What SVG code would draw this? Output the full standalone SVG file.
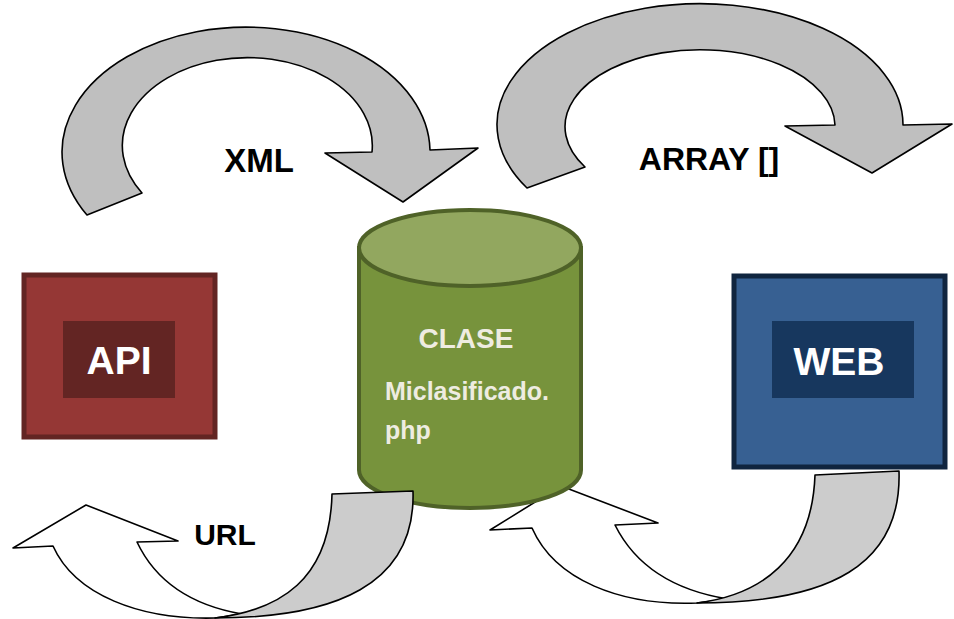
<svg xmlns="http://www.w3.org/2000/svg" width="954" height="619" viewBox="0 0 954 619">
<style>
.arr{stroke:#000;stroke-width:1.6;stroke-linejoin:round}
.g1{fill:#bfbfbf}
.g2{fill:#cccccc}
.w{fill:#fff}
.lbl{font-family:"Liberation Sans",Arial,sans-serif;font-weight:bold;fill:#000}
.nt{font-family:"Liberation Sans",Arial,sans-serif;font-weight:bold;fill:#fff}
.ct{font-family:"Liberation Sans",Arial,sans-serif;font-weight:bold;fill:#eeece1}
</style>
<rect width="954" height="619" fill="#fff"/>
<g id="connectors">
  <path class="arr g1" d="M87,215 A184,125 0 1 1 430,150 L478,148 L403,202 L325,153 L372,152 A125,88 0 1 0 142,193 Z"/>
  <path class="arr g1" d="M527,188 A203,121 0 1 1 903,125 L952,124 L872,173 L785,126 L835,125 A135,77 0 1 0 585,167 Z"/>
  <path class="arr w" d="M532,528 L490,530 L561,486 L658,523 L615,525 C635,565 672,590 728,599 L697,603 C620,606 555,580 532,528 Z"/>
  <path class="arr g2" d="M815,475 L899,471 C902,565 830,603 697,603 C760,595 812,560 815,475 Z"/>
  <text class="lbl" x="259" y="172" font-size="33" text-anchor="middle">XML</text>
  <text class="lbl" x="709" y="170" font-size="32" text-anchor="middle">ARRAY []</text>
  <text class="lbl" x="225" y="545" font-size="30" text-anchor="middle">URL</text>
</g>
<g id="api">
  <rect x="24" y="275" width="191" height="162" fill="#953735" stroke="#632523" stroke-width="5"/>
  <rect x="63" y="321" width="112" height="77" fill="#632523"/>
  <text class="nt" x="119" y="374" font-size="39" text-anchor="middle">API</text>
</g>
<g id="web">
  <rect x="734" y="276" width="211" height="191" fill="#376092" stroke="#10253f" stroke-width="5"/>
  <rect x="772" y="321" width="142" height="77" fill="#17375e"/>
  <text class="nt" x="839" y="375" font-size="39" text-anchor="middle">WEB</text>
</g>
<g id="clase">
  <path d="M359,248 L359,470 A111,38 0 0 0 581,470 L581,248 Z" fill="#77933c" stroke="#4f6228" stroke-width="4"/>
  <ellipse cx="470" cy="248" rx="111" ry="38" fill="#92a75f" stroke="#4f6228" stroke-width="4"/>
  <text class="ct" x="466" y="348" font-size="28" text-anchor="middle">CLASE</text>
  <text class="ct" x="385" y="400" font-size="25">Miclasificado.</text>
  <text class="ct" x="385" y="439" font-size="25">php</text>
</g>
<g id="connectors-front">
  <path class="arr w" d="M53,546 L13,548 L86,505 L178,541 L137,542 C155,580 190,605 242,614 L215,618 C140,620 75,595 53,546 Z"/>
  <path class="arr g2" d="M332,494 L413,491 C416,585 335,618 215,618 C280,610 330,580 332,494 Z"/>
</g>
</svg>
